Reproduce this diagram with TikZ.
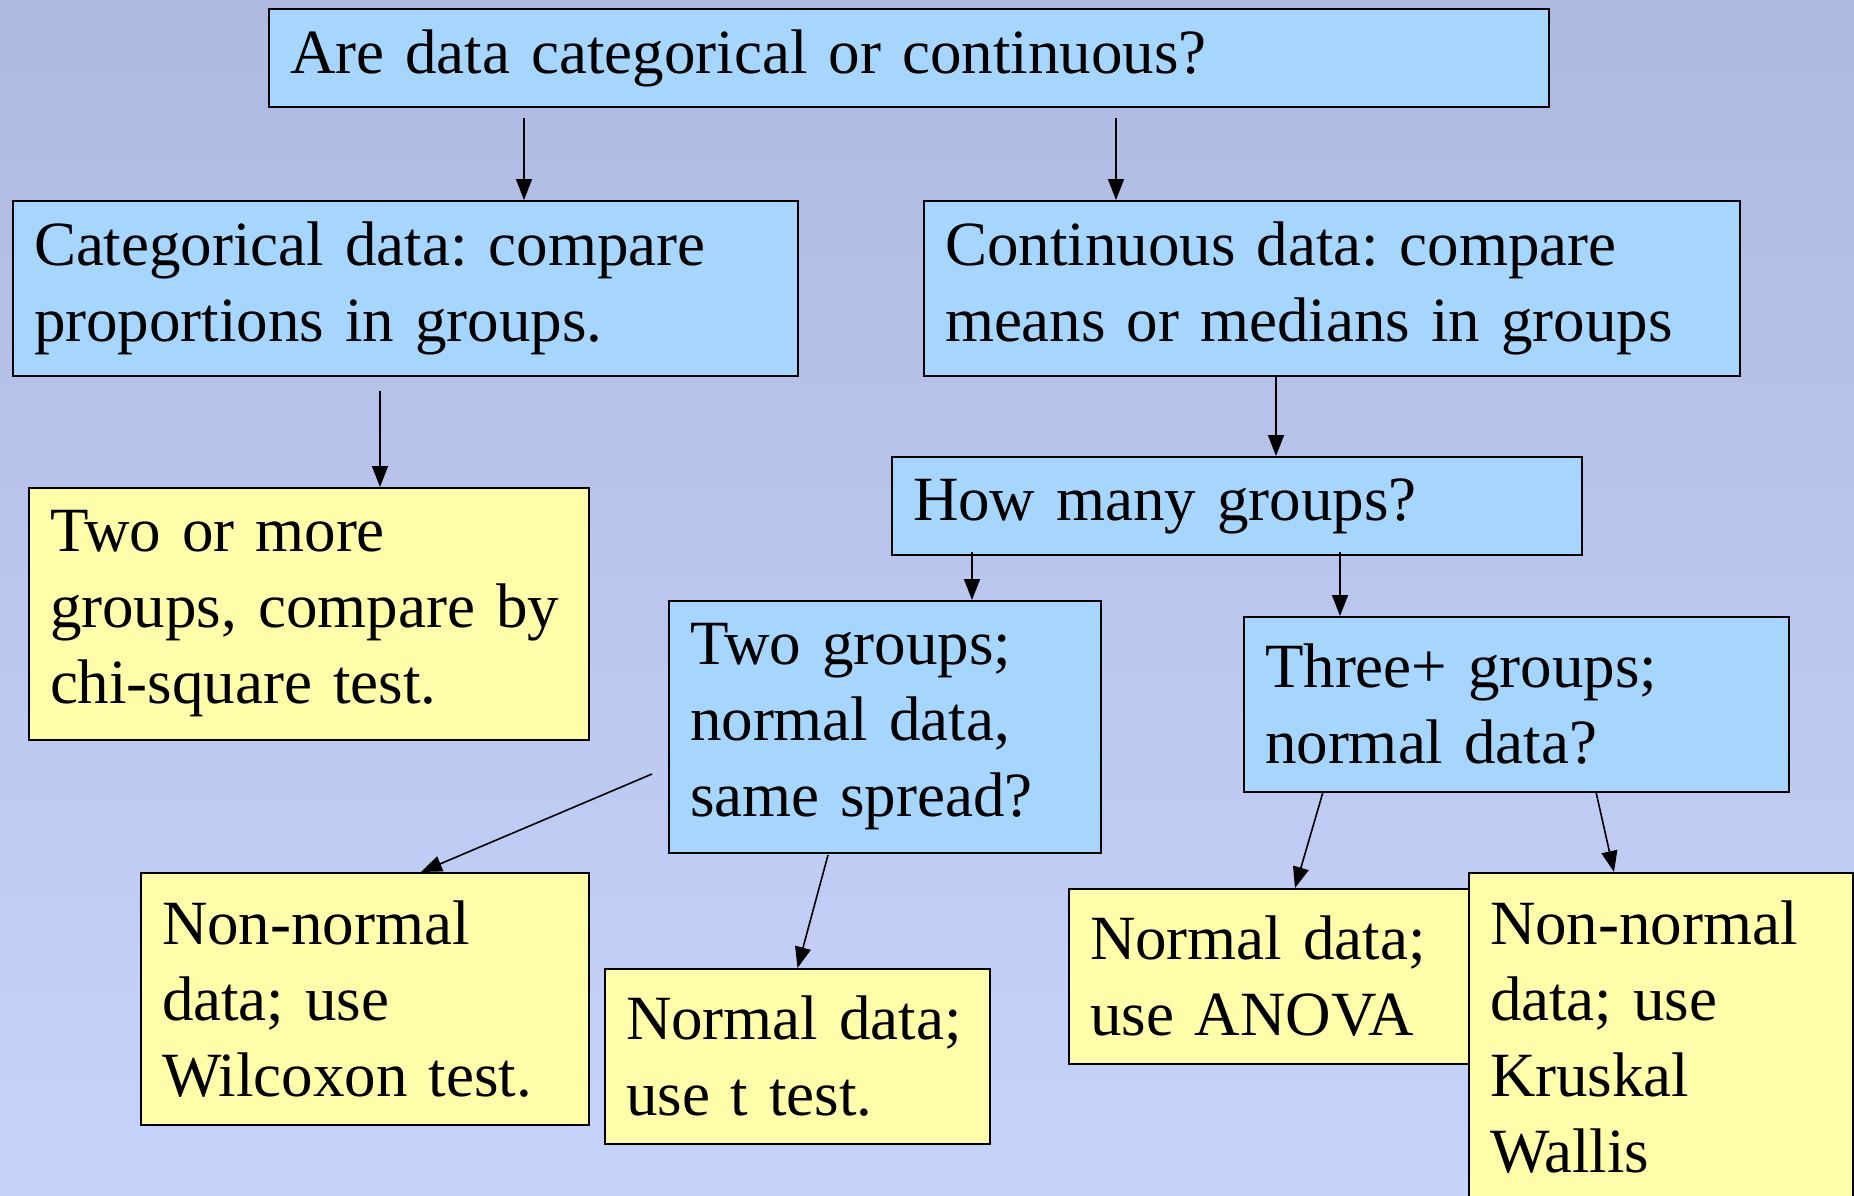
\documentclass[tikz,border=0pt]{standalone}
\usepackage{fontspec}
\setmainfont{Liberation Serif}
\usepackage{tikz}
\usetikzlibrary{arrows.meta,positioning,calc}

\definecolor{bgtop}{RGB}{174,185,224}
\definecolor{bgbot}{RGB}{198,211,251}
\definecolor{qblue}{RGB}{166,213,254}
\definecolor{ansyellow}{RGB}{255,252,170}

\begin{document}
\begin{tikzpicture}[x=0.5pt, y=-0.5pt,
    box/.style 2 args={draw=black, line width=1pt, anchor=north west,
        inner xsep=10.5pt, inner ysep=0pt, align=left,
        text width=#1, minimum height=#2,
        font=\fontsize{31.5}{38}\selectfont\frenchspacing},
    qbox/.style 2 args={box={#1}{#2}, fill=qblue},
    ansbox/.style 2 args={box={#1}{#2}, fill=ansyellow},
    arr/.style={-{Triangle[length=10.5pt,width=8pt]}, line width=0.8pt}]
    % background
    \clip (0,0) rectangle (1854,1195);
    \shade[top color=bgtop, bottom color=bgbot] (0,0) rectangle (1854,1195);

    % questions
    \node[qbox={619pt}{49pt}] (top) at (268,8) {Are data categorical or continuous?};
    \node[qbox={371.5pt}{87.5pt}] (cat) at (12,200) {Categorical data: compare\\proportions in groups.};
    \node[qbox={387pt}{87.5pt}] (cont) at (923,200) {Continuous data: compare\\means or medians in groups};
    \node[qbox={324pt}{49pt}] (how) at (891,456) {How many groups?};
    \node[qbox={195pt}{126pt}] (two) at (668,600) {Two groups;\\normal data,\\same spread?};
    \node[qbox={251.5pt}{87.5pt}] (three) at (1243,616) {Three+ groups;\\normal data?};

    % answers
    \node[ansbox={259pt}{126pt}] (chi) at (28,487) {Two or more\\groups, compare by\\chi-square test.};
    \node[ansbox={203pt}{126pt}] (wil) at (140,872) {Non-normal\\data; use\\Wilcoxon test.};
    \node[ansbox={171.5pt}{87.5pt}] (ttest) at (604,968) {Normal data;\\use t test.};
    \node[ansbox={180pt}{87.5pt}] (anova) at (1068,888) {Normal data;\\use ANOVA};
    \node[ansbox={171pt}{164pt}] (kw) at (1468,872) {Non-normal\\data; use\\Kruskal\\Wallis};

    % arrow starts
    \coordinate (s1) at (524,118);
    \coordinate (s2) at (1116,118);
    \coordinate (s3) at (380,391);
    \coordinate (s4) at (1276,375);
    \coordinate (s5) at (972,552);
    \coordinate (s6) at (1340,552);
    \coordinate (s7) at (652,774);
    \coordinate (s8) at (828,855);
    \coordinate (s9) at (1323,792);
    \coordinate (s10) at (1596,792);

    \draw[arr] (s1) -- (s1 |- cat.north);
    \draw[arr] (s2) -- (s2 |- cont.north);
    \draw[arr] (s3) -- (s3 |- chi.north);
    \draw[arr] (s4) -- (s4 |- how.north);
    \draw[arr] (s5) -- (s5 |- two.north);
    \draw[arr] (s6) -- (s6 |- three.north);
    \draw[arr] (s7) -- ([xshift=28pt]wil.north);
    \draw[arr] (s8) -- (ttest.north);
    \draw[arr] (s9) -- ([xshift=12.5pt]anova.north);
    \draw[arr] (s10) -- ([xshift=-23.5pt]kw.north);
\end{tikzpicture}
\end{document}
